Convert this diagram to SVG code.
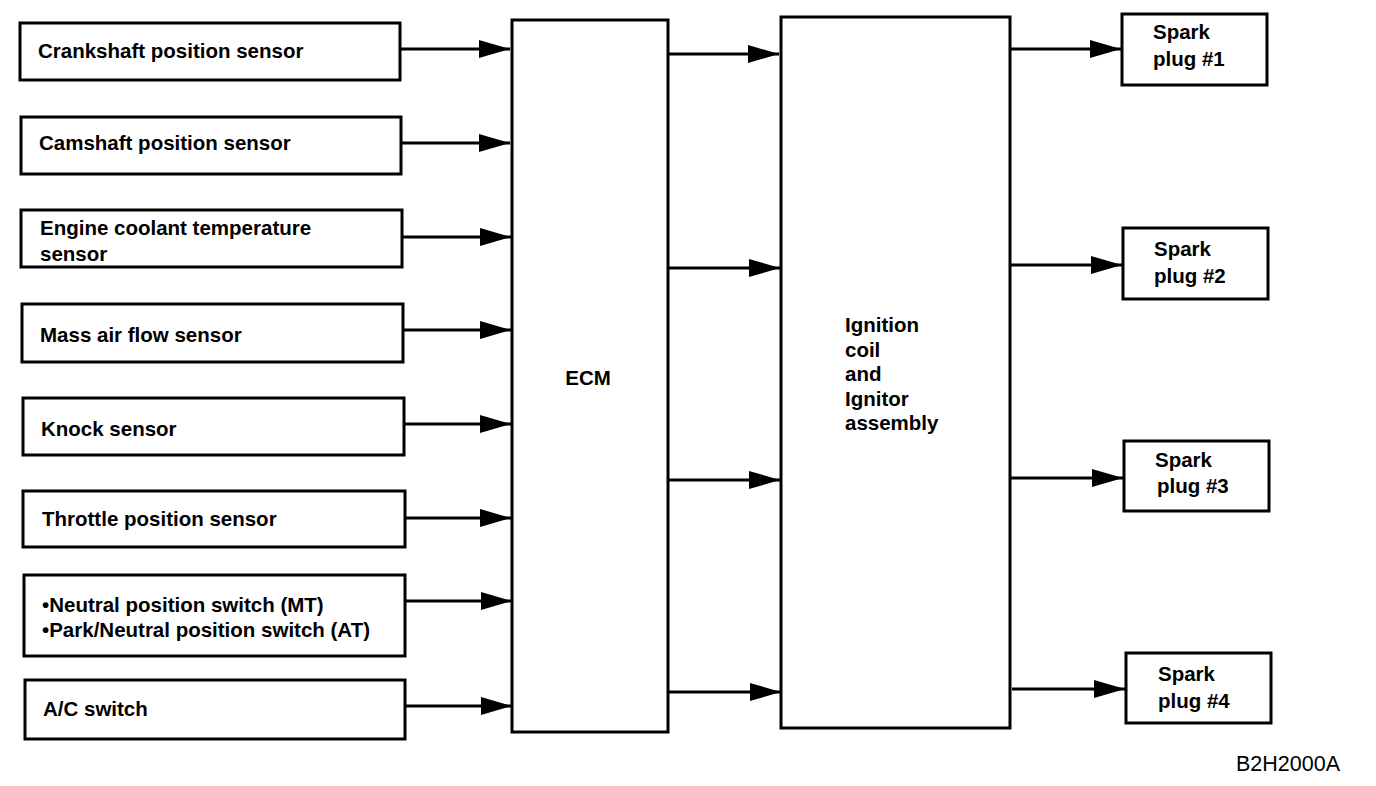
<svg xmlns="http://www.w3.org/2000/svg" width="1376" height="786" viewBox="0 0 1376 786">
<style>
.box{fill:#fff;stroke:#000;stroke-width:3}
.t{font-family:"Liberation Sans",Arial,sans-serif;font-weight:bold;font-size:20.5px;fill:#000}
.c{stroke:#000;stroke-width:3;fill:none}
.ref{font-family:"Liberation Sans",Arial,sans-serif;font-size:21.5px;fill:#000}
</style>
<defs>
<marker id="ah" markerUnits="userSpaceOnUse" markerWidth="32" markerHeight="18" refX="31" refY="9" orient="auto">
<path d="M0,0 L31,9 L0,18 Z" fill="#000"/>
</marker>
</defs>
<rect width="1376" height="786" fill="#fff"/>
<g id="crankshaft"><rect class="box" x="20" y="23" width="380" height="57"/><text class="t" x="38" y="58">Crankshaft position sensor</text></g>
<g id="camshaft"><rect class="box" x="21" y="117" width="380" height="57"/><text class="t" x="39" y="150">Camshaft position sensor</text></g>
<g id="coolant"><rect class="box" x="21" y="210" width="381" height="57"/><text class="t" x="40" y="235">Engine coolant temperature</text><text class="t" x="40" y="261">sensor</text></g>
<g id="maf"><rect class="box" x="22" y="304" width="381" height="58"/><text class="t" x="40" y="342">Mass air flow sensor</text></g>
<g id="knock"><rect class="box" x="23" y="398" width="381" height="57"/><text class="t" x="41" y="436">Knock sensor</text></g>
<g id="throttle"><rect class="box" x="23" y="491" width="382" height="56"/><text class="t" x="42" y="526">Throttle position sensor</text></g>
<g id="neutral"><rect class="box" x="24" y="575" width="381" height="81"/><text class="t" x="42" y="612">•Neutral position switch (MT)</text><text class="t" x="42" y="637">•Park/Neutral position switch (AT)</text></g>
<g id="ac"><rect class="box" x="25" y="680" width="380" height="59"/><text class="t" x="43" y="716">A/C switch</text></g>
<g id="ecm"><rect class="box" x="512" y="20" width="156" height="712"/><text class="t" x="588" y="385" text-anchor="middle">ECM</text></g>
<g id="ignition"><rect class="box" x="781" y="17" width="229" height="711"/><text class="t" x="845" y="332">Ignition</text><text class="t" x="845" y="357">coil</text><text class="t" x="845" y="381">and</text><text class="t" x="845" y="406">Ignitor</text><text class="t" x="845" y="430">assembly</text></g>
<g id="plug1"><rect class="box" x="1122" y="14" width="145" height="71"/><text class="t" x="1153" y="39">Spark</text><text class="t" x="1153" y="66">plug #1</text></g>
<g id="plug2"><rect class="box" x="1123" y="228" width="145" height="71"/><text class="t" x="1154" y="256">Spark</text><text class="t" x="1154" y="283">plug #2</text></g>
<g id="plug3"><rect class="box" x="1124" y="441" width="145" height="70"/><text class="t" x="1155" y="467">Spark</text><text class="t" x="1157" y="493">plug #3</text></g>
<g id="plug4"><rect class="box" x="1126" y="653" width="145" height="70"/><text class="t" x="1158" y="681">Spark</text><text class="t" x="1158" y="708">plug #4</text></g>
<g id="connectors">
<line class="c" x1="400" y1="49" x2="510" y2="49" marker-end="url(#ah)"/>
<line class="c" x1="401" y1="143" x2="510" y2="143" marker-end="url(#ah)"/>
<line class="c" x1="402" y1="237" x2="511" y2="237" marker-end="url(#ah)"/>
<line class="c" x1="403" y1="330" x2="511" y2="330" marker-end="url(#ah)"/>
<line class="c" x1="404" y1="424" x2="511" y2="424" marker-end="url(#ah)"/>
<line class="c" x1="405" y1="518" x2="511" y2="518" marker-end="url(#ah)"/>
<line class="c" x1="405" y1="601" x2="512" y2="601" marker-end="url(#ah)"/>
<line class="c" x1="405" y1="706" x2="512" y2="706" marker-end="url(#ah)"/>
<line class="c" x1="668" y1="54" x2="779" y2="54" marker-end="url(#ah)"/>
<line class="c" x1="668" y1="268" x2="780" y2="268" marker-end="url(#ah)"/>
<line class="c" x1="668" y1="480" x2="780" y2="480" marker-end="url(#ah)"/>
<line class="c" x1="668" y1="692" x2="781" y2="692" marker-end="url(#ah)"/>
<line class="c" x1="1010" y1="49" x2="1121" y2="49" marker-end="url(#ah)"/>
<line class="c" x1="1010" y1="265" x2="1122" y2="265" marker-end="url(#ah)"/>
<line class="c" x1="1011" y1="478" x2="1123" y2="478" marker-end="url(#ah)"/>
<line class="c" x1="1012" y1="689" x2="1125" y2="689" marker-end="url(#ah)"/>
</g>
<text class="ref" x="1236" y="771">B2H2000A</text>
</svg>
